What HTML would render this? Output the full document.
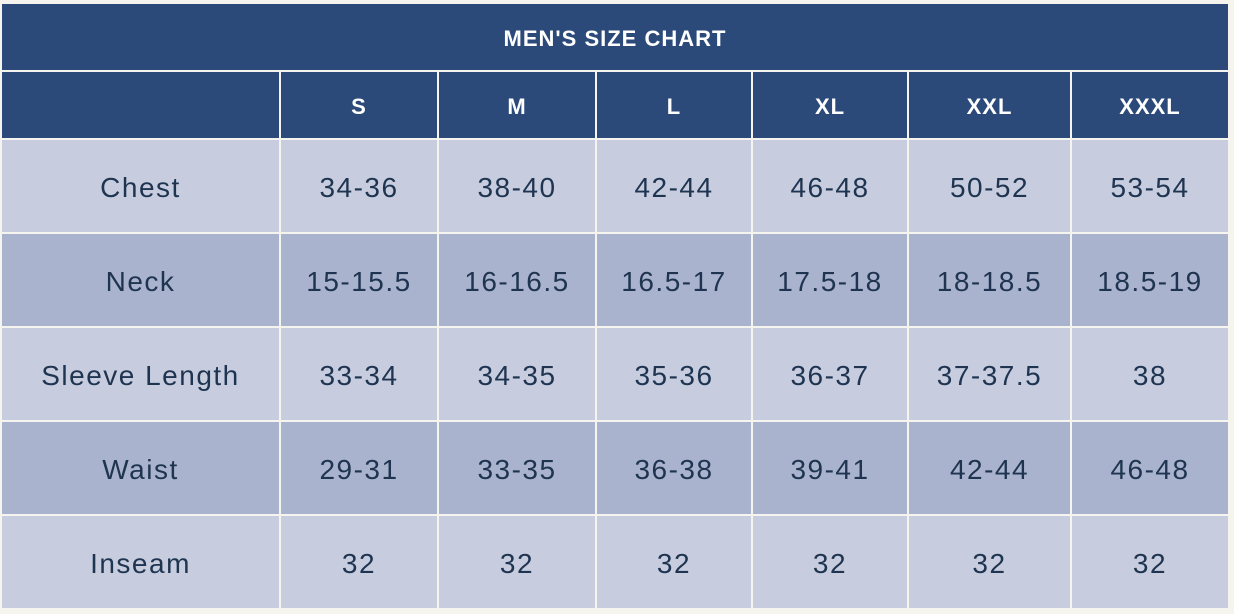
<!DOCTYPE html>
<html><head><style>
body{margin:0;width:1234px;height:614px;background:#f6f4ef;position:relative;overflow:hidden;font-family:"Liberation Sans",sans-serif}
.c{position:absolute;display:flex;align-items:center;justify-content:center;box-sizing:border-box;padding-top:4px}
.h{background:#2b4a7a;color:#fff;font-weight:bold;font-size:22px;letter-spacing:1px}
.l{background:#c7cddf;color:#1e3450;font-size:28px;letter-spacing:1.5px}
.m{background:#aab3cd;color:#1e3450;font-size:28px;letter-spacing:1.5px}
</style></head><body>
<div class="c h" style="left:2px;top:4px;width:1226px;height:66px">MEN'S SIZE CHART</div>
<div id="t"></div>
<script>
var cols=[[2,277],[281,156],[439,156],[597,154],[753,154],[909,161],[1072,156]];
var rows=[[72,66,'h'],[140,92,'l'],[234,92,'m'],[328,92,'l'],[422,92,'m'],[516,92,'l']];
var data=[["","S","M","L","XL","XXL","XXXL"],
["Chest","34-36","38-40","42-44","46-48","50-52","53-54"],
["Neck","15-15.5","16-16.5","16.5-17","17.5-18","18-18.5","18.5-19"],
["Sleeve Length","33-34","34-35","35-36","36-37","37-37.5","38"],
["Waist","29-31","33-35","36-38","39-41","42-44","46-48"],
["Inseam","32","32","32","32","32","32"]];
var s="";
rows.forEach(function(r,i){cols.forEach(function(c,j){
s+='<div class="c '+r[2]+'" style="left:'+c[0]+'px;top:'+r[0]+'px;width:'+c[1]+'px;height:'+r[1]+'px">'+data[i][j]+'</div>';});});
document.getElementById('t').outerHTML=s;
</script>
</body></html>
